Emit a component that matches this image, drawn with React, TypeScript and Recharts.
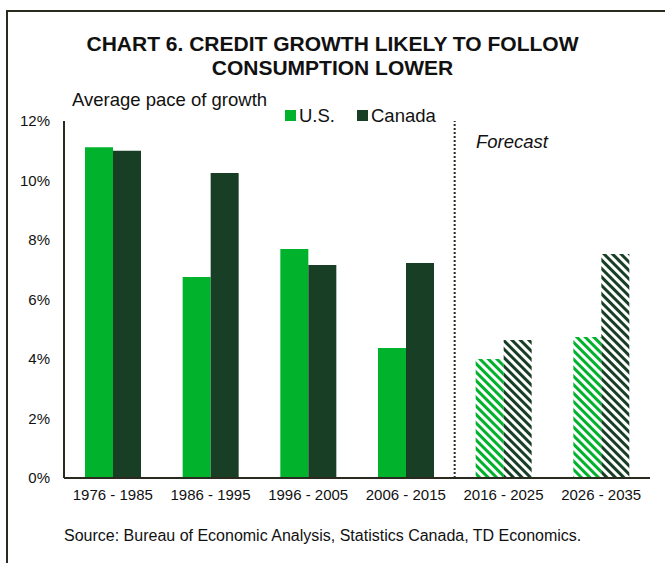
import { BarChart, Bar, XAxis, YAxis, Cell, ReferenceLine } from 'recharts';

const periods = ['1976 - 1985', '1986 - 1995', '1996 - 2005', '2006 - 2015', '2016 - 2025', '2026 - 2035'];
const usGrowth = [11.12, 6.76, 7.7, 4.37, 4.0, 4.74];
const canadaGrowth = [11.0, 10.25, 7.16, 7.23, 4.64, 7.53];
const forecastStart = 4; // index of first forecast period
const yTicks = [0, 2, 4, 6, 8, 10, 12];

const US_GREEN = '#00b22c';
const CA_GREEN = '#183f26';
const AXIS = '#2a2a1e';

const data = periods.map((p, i) => ({ period: p, idx: i + 0.5, us: usGrowth[i], canada: canadaGrowth[i] }));

const font = 'Arial, "Liberation Sans", sans-serif';

function LegendBox() {
  const item = (color: string, label: string) => (
    <span style={{ display: 'inline-flex', alignItems: 'center', marginRight: 22 }}>
      <span style={{ width: 11, height: 11, background: color, display: 'inline-block', marginRight: 3 }} />
      <span>{label}</span>
    </span>
  );
  return (
    <div style={{ position: 'absolute', left: 285, top: 104, fontSize: 18.5, lineHeight: '22px', color: '#111', whiteSpace: 'nowrap' }}>
      {item(US_GREEN, 'U.S.')}
      {item(CA_GREEN, 'Canada')}
    </div>
  );
}

export default function App() {
  return (
    <div style={{ position: 'absolute', left: 0, top: 0, width: 665, height: 563, background: '#fff', fontFamily: font }}>
      <div style={{ position: 'absolute', left: 6, top: 10, right: 0, bottom: 0, borderTop: `2px solid ${AXIS}`, borderLeft: `2px solid ${AXIS}` }} />
      <div style={{ position: 'absolute', left: 0, width: 665, top: 32, textAlign: 'center', fontWeight: 'bold', fontSize: 21, lineHeight: '24px', color: '#111' }}>
        CHART 6. CREDIT GROWTH LIKELY TO FOLLOW<br />CONSUMPTION LOWER
      </div>
      <div style={{ position: 'absolute', left: 72, top: 89, fontSize: 18.5, lineHeight: '22px', color: '#111' }}>Average pace of growth</div>
      <LegendBox />
      <div style={{ position: 'absolute', left: 476, top: 131, fontSize: 18.5, lineHeight: '22px', fontStyle: 'italic', color: '#111' }}>Forecast</div>
      <BarChart width={665} height={563} data={data} margin={{ top: 121, right: 15, bottom: 55, left: 8 }} barGap={0} barSize={28}>
        <defs>
          <pattern id="usStripe" width="6" height="6" patternUnits="userSpaceOnUse" patternTransform="rotate(-45)">
            <rect width="6" height="6" fill="#fff" />
            <rect width="3" height="6" fill={US_GREEN} />
          </pattern>
          <pattern id="caStripe" width="6" height="6" patternUnits="userSpaceOnUse" patternTransform="rotate(-45)">
            <rect width="6" height="6" fill="#fff" />
            <rect width="3" height="6" fill={CA_GREEN} />
          </pattern>
        </defs>
        <XAxis dataKey="period" tickLine={false} axisLine={{ stroke: AXIS, strokeWidth: 2 }} tick={{ fill: '#111', fontSize: 15, fontFamily: font }} tickMargin={5} height={30} interval={0} />
        <XAxis xAxisId="num" type="number" domain={[0, 6]} dataKey="idx" hide />
        <YAxis domain={[0, 12]} ticks={yTicks} tickFormatter={(v) => `${v}%`} tickLine={false} axisLine={{ stroke: AXIS, strokeWidth: 2 }} tick={{ fill: '#111', fontSize: 15, fontFamily: font }} tickMargin={8} width={56} />
        <ReferenceLine xAxisId="num" x={forecastStart} stroke={AXIS} strokeWidth={2} strokeDasharray="2 2" />
        <Bar dataKey="us" name="U.S." fill={US_GREEN} isAnimationActive={false}>
          {data.map((_, i) => (
            <Cell key={i} fill={i >= forecastStart ? 'url(#usStripe)' : US_GREEN} />
          ))}
        </Bar>
        <Bar dataKey="canada" name="Canada" fill={CA_GREEN} isAnimationActive={false}>
          {data.map((_, i) => (
            <Cell key={i} fill={i >= forecastStart ? 'url(#caStripe)' : CA_GREEN} />
          ))}
        </Bar>
      </BarChart>
      <div style={{ position: 'absolute', left: 64, top: 526, fontSize: 16, lineHeight: '20px', color: '#111' }}>
        Source: Bureau of Economic Analysis, Statistics Canada, TD Economics.
      </div>
    </div>
  );
}
